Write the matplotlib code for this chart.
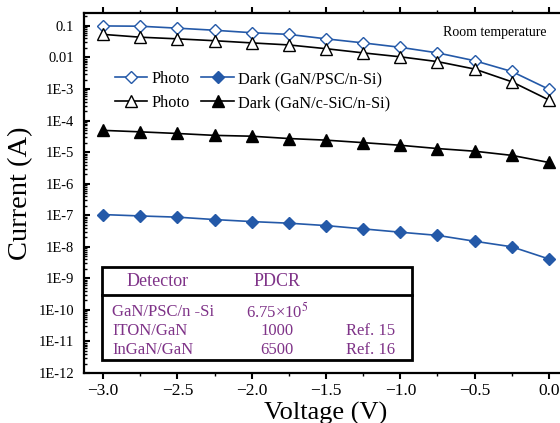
import numpy as np
import matplotlib
matplotlib.use("Agg")
import matplotlib.pyplot as plt
import matplotlib.ticker as mtick
from matplotlib.patches import Rectangle

plt.rcParams['font.family'] = ['Liberation Serif', 'DejaVu Serif']
plt.rcParams['mathtext.fontset'] = 'stix'

# Data
voltage = [-3.0, -2.75, -2.5, -2.25, -2.0, -1.75, -1.5, -1.25, -1.0, -0.75, -0.5, -0.25, 0.0]
photo_psc = [0.1, 0.098, 0.085, 0.073, 0.061, 0.054, 0.039, 0.029, 0.021, 0.014, 0.0079, 0.0036, 0.00098]
dark_psc = [1.05e-7, 9.5e-8, 8.7e-8, 7.3e-8, 6.3e-8, 5.6e-8, 4.7e-8, 3.7e-8, 2.9e-8, 2.3e-8, 1.5e-8, 1.0e-8, 4.1e-9]
photo_sic = [0.054, 0.044, 0.039, 0.034, 0.029, 0.025, 0.019, 0.014, 0.0105, 0.0074, 0.0043, 0.0017, 0.00045]
dark_sic = [4.9e-5, 4.4e-5, 3.9e-5, 3.4e-5, 3.2e-5, 2.7e-5, 2.4e-5, 2.0e-5, 1.65e-5, 1.3e-5, 1.07e-5, 7.9e-6, 4.7e-6]

ytick_vals = [1e-1, 1e-2, 1e-3, 1e-4, 1e-5, 1e-6, 1e-7, 1e-8, 1e-9, 1e-10, 1e-11, 1e-12]
ytick_labels = ['0.1', '0.01', '1E-3', '1E-4', '1E-5', '1E-6', '1E-7', '1E-8', '1E-9', '1E-10', '1E-11', '1E-12']

table_header = ['Detector', 'PDCR']
table_detector = ['GaN/PSC/n -Si', 'ITON/GaN', 'InGaN/GaN']
table_pdcr = [r'6.75×10$^5$', '1000', '6500']
table_ref = ['', 'Ref. 15', 'Ref. 16']

blue = '#2459a8'
purple = '#7f3388'

fig = plt.figure(figsize=(5.6, 4.23), dpi=100)
# axes run past the right edge, like the cropped original
ax = fig.add_axes([84 / 560, 50 / 423, 484 / 560, 360 / 423])

ax.plot(voltage, photo_psc, '-D', color=blue, mfc='white', mec=blue, ms=6, lw=1.2, label='Photo')
ax.plot(voltage, photo_sic, '-^', color='black', mfc='white', mec='black', ms=8, lw=1.2, label='Photo')
ax.plot(voltage, dark_psc, '-D', color=blue, mfc=blue, mec=blue, ms=6, lw=1.2, label='Dark (GaN/PSC/n-Si)')
ax.plot(voltage, dark_sic, '-^', color='black', mfc='black', mec='black', ms=8, lw=1.2,
        label='Dark (GaN/c-SiC/n-Si)')

ax.set_yscale('log')
ax.set_ylim(1e-12, 10 ** -0.59)
ax.set_xlim(-3.128, 0.128)

ax.set_yticks(ytick_vals)
ax.set_yticklabels(ytick_labels)
ax.yaxis.set_minor_locator(mtick.LogLocator(base=10, subs=np.arange(2, 10), numticks=100))
ax.yaxis.set_minor_formatter(mtick.NullFormatter())
ax.xaxis.set_major_locator(mtick.MultipleLocator(0.5))
ax.xaxis.set_minor_locator(mtick.MultipleLocator(0.25))
ax.xaxis.set_major_formatter(mtick.FuncFormatter(lambda v, p: f'{v:.1f}'.replace('-', '\u2212')))

ax.tick_params(axis='y', which='major', direction='in', length=4, width=1.5, labelsize=10.5, pad=7)
ax.tick_params(axis='y', which='minor', direction='in', length=2, width=1)
ax.tick_params(axis='x', which='major', direction='out', length=4, width=1.5, labelsize=12.5, top=True)
ax.tick_params(axis='x', which='minor', direction='out', length=2.5, width=1, top=True)
for s in ax.spines.values():
    s.set_linewidth(1.6)

ax.set_ylabel('Current (A)', fontsize=20.5, labelpad=4)
ax.set_xlabel('Voltage (V)', fontsize=19, labelpad=2)

ax.legend(ncol=2, loc='upper left', bbox_to_anchor=(0.033, 0.88), frameon=False, fontsize=11.8,
          handlelength=2.0, handletextpad=0.25, columnspacing=0.7, labelspacing=0.5)

ax.text(0.955, 0.965, 'Room temperature', transform=ax.transAxes, ha='right', va='top', fontsize=10)

# inset table
ax.add_patch(Rectangle((0.037, 0.036), 0.641, 0.258, transform=ax.transAxes, fill=False,
                       lw=2, ec='black', zorder=5))
ax.plot([0.037, 0.678], [0.217, 0.217], transform=ax.transAxes, color='black', lw=2, zorder=5)
ax.text(0.153, 0.253, table_header[0], transform=ax.transAxes, ha='center', va='center',
        fontsize=13, color=purple)
ax.text(0.399, 0.253, table_header[1], transform=ax.transAxes, ha='center', va='center',
        fontsize=13, color=purple)
row_y = [0.169, 0.117, 0.064]
for i in range(len(table_detector)):
    ax.text(0.058, row_y[i], table_detector[i], transform=ax.transAxes, ha='left', va='center',
            fontsize=12, color=purple)
    ax.text(0.399, row_y[i], table_pdcr[i], transform=ax.transAxes, ha='center', va='center',
            fontsize=12, color=purple)
    ax.text(0.593, row_y[i], table_ref[i], transform=ax.transAxes, ha='center', va='center',
            fontsize=12, color=purple)

fig.savefig('out.png', dpi=100)
